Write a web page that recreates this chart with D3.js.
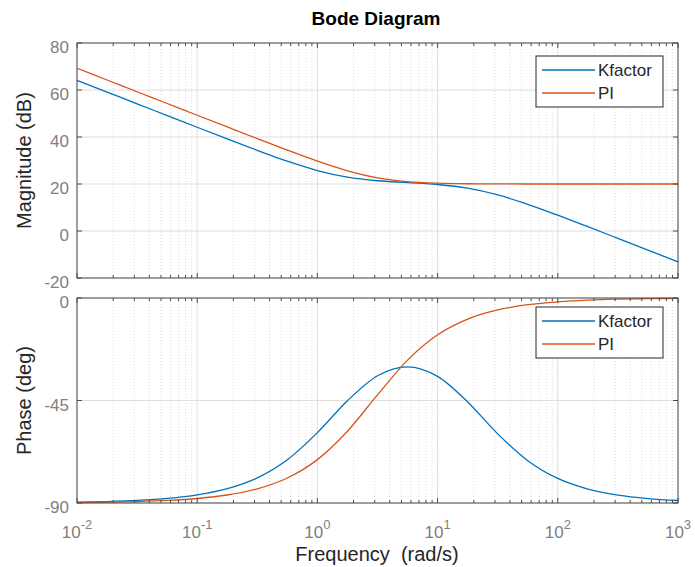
<!DOCTYPE html>
<html>
<head>
<meta charset="utf-8">
<script src="https://cdn.jsdelivr.net/npm/d3@7"></script>
<style>
  body { margin: 0; background: #fff; }
  svg { display: block; font-family: Arial, "Liberation Sans", sans-serif; }
</style>
</head>
<body>
<div id="chart"></div>
<script>
const width = 695;
const height = 567;

// frequencies (rad/s), quarter-decade steps
const freq = [0.01, 0.017783, 0.031623, 0.056234, 0.1, 0.17783, 0.31623, 0.56234, 1, 1.7783,
  3.1623, 5.6234, 10, 17.783, 31.623, 56.234, 100, 177.83, 316.23, 562.34, 1000];

const kfactorMag = [64.13, 59.13, 54.13, 49.14, 44.15, 39.2, 34.32, 29.7, 25.72, 22.91,
  21.39, 20.6, 19.79, 18.22, 15.36, 11.35, 6.71, 1.83, -3.13, -8.12, -13.11];
const piMag = [69.25, 64.25, 59.25, 54.25, 49.25, 44.27, 39.3, 34.41, 29.74, 25.63,
  22.65, 21.02, 20.35, 20.11, 20.04, 20.01, 20, 20, 20, 20, 20];

const kfactorPhase = [-89.65, -89.37, -88.88, -88.01, -86.46, -83.73, -78.98, -71.01, -59.09, -45.08,
  -34.11, -30.21, -34.42, -45.62, -59.64, -71.41, -79.22, -83.87, -86.54, -88.05, -88.91];
const piPhase = [-89.8, -89.65, -89.38, -88.89, -88.02, -86.49, -83.78, -79.03, -70.96, -58.48,
  -42.53, -27.28, -16.17, -9.26, -5.24, -2.95, -1.66, -0.93, -0.53, -0.3, -0.17];

const seriesNames = ["Kfactor", "PI"];
const colors = ["#0072BD", "#D95319"];

const magTicks = [-20, 0, 20, 40, 60, 80];
const phaseTicks = [-90, -45, 0];
const decadeExp = [-2, -1, 0, 1, 2, 3];

const plotLeft = 77, plotRight = 678;

const svg = d3.select("#chart").append("svg")
  .attr("width", width)
  .attr("height", height);

const x = d3.scaleLog().domain([0.01, 1000]).range([plotLeft, plotRight]);

// minor grid positions 2..9 per decade
const minorVals = [];
decadeExp.slice(0, -1).forEach(e => {
  for (let m = 2; m <= 9; m++) minorVals.push(m * Math.pow(10, e));
});
const majorVals = decadeExp.map(e => Math.pow(10, e));

function drawPanel(top, bottom, domain, ticks, series, legendY, yLabel) {
  const y = d3.scaleLinear().domain(domain).range([bottom, top]);
  const g = svg.append("g");

  // minor grid (dotted)
  g.selectAll(".minor").data(minorVals).enter().append("line")
    .attr("x1", d => x(d)).attr("x2", d => x(d))
    .attr("y1", top).attr("y2", bottom)
    .attr("stroke", "#d4d4d4").attr("stroke-width", 0.8)
    .attr("stroke-dasharray", "1,2");

  // major grid
  g.selectAll(".vmajor").data(majorVals).enter().append("line")
    .attr("x1", d => x(d)).attr("x2", d => x(d))
    .attr("y1", top).attr("y2", bottom)
    .attr("stroke", "#dedede").attr("stroke-width", 1);
  g.selectAll(".hmajor").data(ticks).enter().append("line")
    .attr("x1", plotLeft).attr("x2", plotRight)
    .attr("y1", d => y(d)).attr("y2", d => y(d))
    .attr("stroke", "#dedede").attr("stroke-width", 1);

  // curves
  const line = d3.line()
    .x((d, i) => x(freq[i]))
    .y(d => y(d))
    .curve(d3.curveMonotoneX);
  series.forEach((s, i) => {
    g.append("path")
      .attr("d", line(s))
      .attr("fill", "none")
      .attr("stroke", colors[i])
      .attr("stroke-width", 1.3);
  });

  // box
  g.append("rect")
    .attr("x", plotLeft).attr("y", top)
    .attr("width", plotRight - plotLeft).attr("height", bottom - top)
    .attr("fill", "none").attr("stroke", "#4d4d4d").attr("stroke-width", 1);

  // ticks inside on all four sides
  const tickCol = "#4d4d4d";
  [top, bottom].forEach(edge => {
    const dir = edge === top ? 1 : -1;
    g.selectAll(null).data(majorVals).enter().append("line")
      .attr("x1", d => x(d)).attr("x2", d => x(d))
      .attr("y1", edge).attr("y2", edge + dir * 5)
      .attr("stroke", tickCol);
    g.selectAll(null).data(minorVals).enter().append("line")
      .attr("x1", d => x(d)).attr("x2", d => x(d))
      .attr("y1", edge).attr("y2", edge + dir * 3)
      .attr("stroke", tickCol);
  });
  [plotLeft, plotRight].forEach(edge => {
    const dir = edge === plotLeft ? 1 : -1;
    g.selectAll(null).data(ticks).enter().append("line")
      .attr("x1", edge).attr("x2", edge + dir * 5)
      .attr("y1", d => y(d)).attr("y2", d => y(d))
      .attr("stroke", tickCol);
  });

  // y tick labels
  g.selectAll(".ylab").data(ticks).enter().append("text")
    .attr("x", plotLeft - 8)
    .attr("y", d => y(d) + 10)
    .attr("text-anchor", "end")
    .attr("font-size", 17)
    .attr("fill", "#808080")
    .text(d => d);

  // y axis title
  g.append("text")
    .attr("transform", `translate(31,${(top + bottom) / 2}) rotate(-90)`)
    .attr("text-anchor", "middle")
    .attr("font-size", 20)
    .attr("fill", "#262626")
    .text(yLabel);

  // legend
  const lg = g.append("g").attr("transform", `translate(536,${legendY})`);
  lg.append("rect")
    .attr("width", 127).attr("height", 51)
    .attr("fill", "#fff").attr("stroke", "#262626").attr("stroke-width", 1);
  seriesNames.forEach((name, i) => {
    const ly = 14 + i * 23;
    lg.append("line")
      .attr("x1", 6).attr("x2", 59)
      .attr("y1", ly).attr("y2", ly)
      .attr("stroke", colors[i]).attr("stroke-width", 1.3);
    lg.append("text")
      .attr("x", 62).attr("y", ly + 6)
      .attr("font-size", 17)
      .attr("fill", "#262626")
      .text(name);
  });
}

drawPanel(43, 278, [-20, 80], magTicks, [kfactorMag, piMag], 56, "Magnitude (dB)");
drawPanel(298, 503, [-90, 0], phaseTicks, [kfactorPhase, piPhase], 307, "Phase (deg)");

// x tick labels with superscript exponents
const xl = svg.append("g");
decadeExp.forEach(e => {
  const t = xl.append("text")
    .attr("x", x(Math.pow(10, e)))
    .attr("y", 538)
    .attr("text-anchor", "middle")
    .attr("font-size", 17)
    .attr("fill", "#808080");
  t.append("tspan").text("10");
  t.append("tspan").attr("dy", -9).attr("font-size", 13).text(e);
});

svg.append("text")
  .attr("x", 377).attr("y", 561)
  .attr("text-anchor", "middle")
  .attr("font-size", 20)
  .attr("fill", "#262626")
  .attr("xml:space", "preserve")
  .style("white-space", "pre")
  .text("Frequency  (rad/s)");

svg.append("text")
  .attr("x", 376).attr("y", 25)
  .attr("text-anchor", "middle")
  .attr("font-size", 19)
  .attr("font-weight", "bold")
  .attr("fill", "#000")
  .text("Bode Diagram");
</script>
</body>
</html>
